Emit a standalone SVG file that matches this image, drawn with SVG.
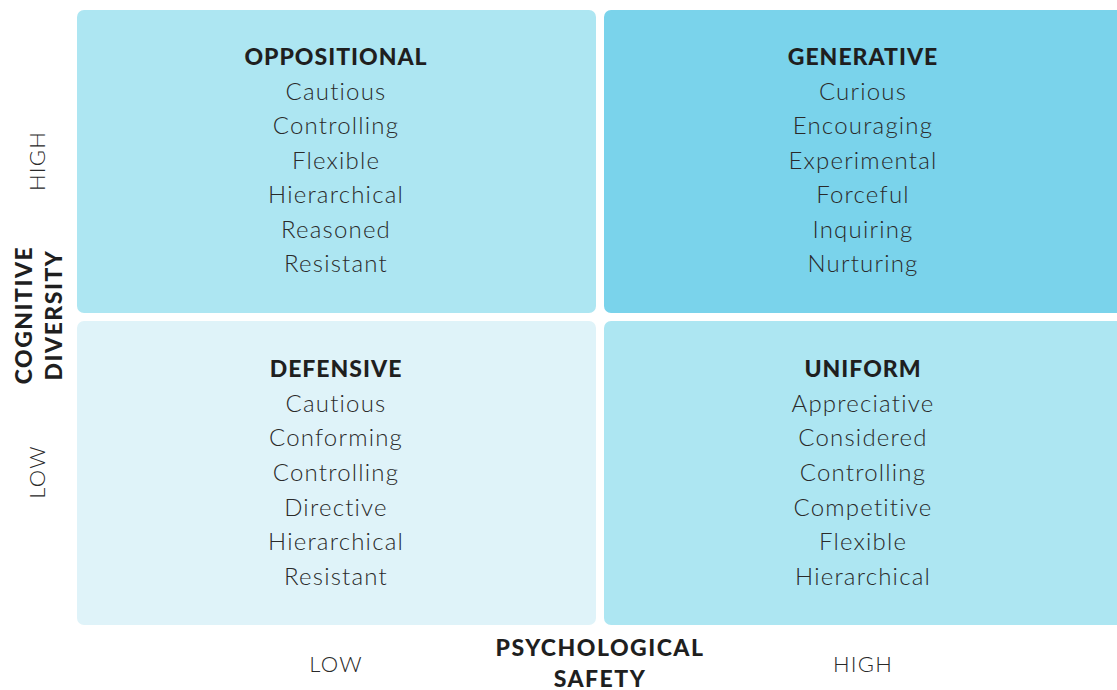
<svg xmlns="http://www.w3.org/2000/svg" width="1117" height="690" viewBox="0 0 1117 690">
  <style>
    .title { font-family: Lato, "Noto Sans", "Liberation Sans", sans-serif; font-weight: 900; font-size: 23px; fill: #1f1f1f; text-anchor: middle; letter-spacing: 1px; }
    .item { font-family: Lato, "Noto Sans", "Liberation Sans", sans-serif; font-weight: 300; font-size: 24px; fill: #2a2a2a; text-anchor: middle; letter-spacing: 1.2px; }
    .axis { font-family: Lato, "Noto Sans", "Liberation Sans", sans-serif; font-weight: 300; font-size: 22px; fill: #2a2a2a; text-anchor: middle; letter-spacing: 1.2px; }
    .axis-title { font-family: Lato, "Noto Sans", "Liberation Sans", sans-serif; font-weight: 900; font-size: 23px; fill: #1f1f1f; text-anchor: middle; letter-spacing: 1.5px; }
  </style>
  <rect width="1117" height="690" fill="#ffffff"/>

  <!-- quadrants -->
  <g id="oppositional">
    <rect x="77" y="10" width="519" height="303" rx="7" fill="#ade6f2"/>
    <text class="title" x="336" y="65">OPPOSITIONAL</text>
    <text class="item" x="336" y="100">Cautious</text>
    <text class="item" x="336" y="134">Controlling</text>
    <text class="item" x="336" y="169">Flexible</text>
    <text class="item" x="336" y="203">Hierarchical</text>
    <text class="item" x="336" y="238">Reasoned</text>
    <text class="item" x="336" y="272">Resistant</text>
  </g>
  <g id="generative">
    <rect x="604" y="10" width="525" height="303" rx="7" fill="#7ad3eb"/>
    <text class="title" x="863" y="65">GENERATIVE</text>
    <text class="item" x="863" y="100">Curious</text>
    <text class="item" x="863" y="134">Encouraging</text>
    <text class="item" x="863" y="169">Experimental</text>
    <text class="item" x="863" y="203">Forceful</text>
    <text class="item" x="863" y="238">Inquiring</text>
    <text class="item" x="863" y="272">Nurturing</text>
  </g>
  <g id="defensive">
    <rect x="77" y="321" width="519" height="304" rx="7" fill="#dff3f9"/>
    <text class="title" x="336" y="377">DEFENSIVE</text>
    <text class="item" x="336" y="412">Cautious</text>
    <text class="item" x="336" y="446">Conforming</text>
    <text class="item" x="336" y="481">Controlling</text>
    <text class="item" x="336" y="516">Directive</text>
    <text class="item" x="336" y="550">Hierarchical</text>
    <text class="item" x="336" y="585">Resistant</text>
  </g>
  <g id="uniform">
    <rect x="604" y="321" width="525" height="304" rx="7" fill="#ade6f2"/>
    <text class="title" x="863" y="377">UNIFORM</text>
    <text class="item" x="863" y="412">Appreciative</text>
    <text class="item" x="863" y="446">Considered</text>
    <text class="item" x="863" y="481">Controlling</text>
    <text class="item" x="863" y="516">Competitive</text>
    <text class="item" x="863" y="550">Flexible</text>
    <text class="item" x="863" y="585">Hierarchical</text>
  </g>

  <!-- vertical axis -->
  <g id="axis-y">
    <text class="axis" transform="translate(45 161) rotate(-90)">HIGH</text>
    <text class="axis" transform="translate(45 472) rotate(-90)">LOW</text>
    <text class="axis-title" transform="translate(32 315) rotate(-90)">COGNITIVE</text>
    <text class="axis-title" transform="translate(62 315) rotate(-90)">DIVERSITY</text>
  </g>

  <!-- horizontal axis -->
  <g id="axis-x">
    <text class="axis" x="336" y="672">LOW</text>
    <text class="axis" x="863" y="672">HIGH</text>
    <text class="axis-title" x="600" y="656">PSYCHOLOGICAL</text>
    <text class="axis-title" x="600" y="687">SAFETY</text>
  </g>
</svg>
